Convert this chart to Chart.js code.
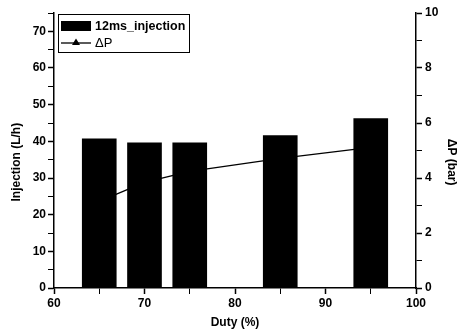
<!DOCTYPE html>
<html>
<head>
<meta charset="utf-8">
<script src="https://cdn.jsdelivr.net/npm/chart.js@4.4.0/dist/chart.umd.min.js"></script>
<style>
  html, body { margin: 0; padding: 0; background: #fff; }
  #wrap { width: 466px; height: 336px; }
</style>
</head>
<body>
<div id="wrap"><canvas id="chart" width="466" height="336"></canvas></div>
<script>
// values
const duty = [65, 70, 75, 85, 95];
const injection = [40.7, 39.6, 39.6, 41.6, 46.2];
const deltaP = [3.15, 3.84, 4.24, 4.71, 5.11];
const seriesNames = ["12ms_injection", "ΔP"];
const xTitle = "Duty (%)";
const yTitle = "Injection (L/h)";
const y1Title = "ΔP (bar)";

Chart.defaults.font.family = "'Liberation Sans', Arial, sans-serif";
Chart.defaults.font.size = 12;
Chart.defaults.font.weight = "bold";
Chart.defaults.color = "#000";

const pad = "\u00a0".repeat(7); // nudges the rotated titles down a bit

// legend box drawn inside the plot, top left
const boxLegend = {
  id: "boxLegend",
  afterDraw(chart) {
    const { ctx, chartArea } = chart;
    const x0 = Math.round(chartArea.left) + 4;
    const y0 = Math.round(chartArea.top) + 1;
    ctx.save();
    ctx.fillStyle = "#fff";
    ctx.fillRect(x0, y0, 131, 38);
    ctx.strokeStyle = "#000";
    ctx.lineWidth = 1;
    ctx.strokeRect(x0 + 0.5, y0 + 0.5, 131, 38);

    ctx.fillStyle = "#000";
    ctx.fillRect(x0 + 3, y0 + 7, 30, 10);

    ctx.lineWidth = 1.3;
    ctx.beginPath();
    ctx.moveTo(x0 + 3, y0 + 29);
    ctx.lineTo(x0 + 33, y0 + 29);
    ctx.stroke();
    ctx.beginPath();
    ctx.moveTo(x0 + 18, y0 + 24.5);
    ctx.lineTo(x0 + 22, y0 + 31);
    ctx.lineTo(x0 + 14, y0 + 31);
    ctx.closePath();
    ctx.fill();

    ctx.font = "bold 12.5px 'Liberation Sans', Arial, sans-serif";
    ctx.textBaseline = "middle";
    ctx.textAlign = "left";
    ctx.fillText(chart.data.datasets[0].label, x0 + 37, y0 + 12.5);
    ctx.font = "13px 'Liberation Sans', Arial, sans-serif";
    ctx.fillText(chart.data.datasets[1].label, x0 + 37, y0 + 29.5);
    ctx.restore();
  }
};

const tickGrid = {
  display: true,
  offset: false,
  drawOnChartArea: false,
  drawTicks: true,
  tickLength: 6,
  tickColor: "#000",
  tickWidth: (c) => (c.tick && c.tick.label !== "" ? 1.5 : 1)
};

new Chart(document.getElementById("chart"), {
  type: "bar",
  data: {
    datasets: [
      {
        label: seriesNames[0],
        data: duty.map((d, i) => ({ x: d, y: injection[i] })),
        backgroundColor: "#000",
        borderWidth: 0,
        barThickness: 34,
        yAxisID: "y"
      },
      {
        type: "line",
        label: seriesNames[1],
        data: duty.map((d, i) => ({ x: d, y: deltaP[i] })),
        borderColor: "#000",
        backgroundColor: "#000",
        borderWidth: 1.3,
        pointStyle: "triangle",
        pointRadius: 4,
        tension: 0,
        yAxisID: "y1"
      }
    ]
  },
  options: {
    responsive: false,
    animation: false,
    layout: { padding: { top: 13, left: 0, right: 0, bottom: 0 } },
    plugins: { legend: { display: false }, tooltip: { enabled: false } },
    scales: {
      x: {
        type: "linear",
        offset: false,
        min: 60,
        max: 100,
        grid: tickGrid,
        border: { display: true, color: "#000", width: 1.5 },
        ticks: {
          stepSize: 5,
          autoSkip: false,
          maxRotation: 0,
          padding: 2,
          callback: (v) => (v % 10 === 0 ? v : "")
        },
        title: { display: true, text: xTitle, padding: { top: 4, bottom: 6 } },
        afterFit: (s) => { s.height = 48; }
      },
      y: {
        position: "left",
        min: 0,
        max: 75,
        grid: tickGrid,
        border: { display: true, color: "#000", width: 1.5 },
        ticks: {
          stepSize: 5,
          autoSkip: false,
          padding: 2,
          callback: (v) => (v % 10 === 0 ? v : "")
        },
        title: { display: true, text: yTitle + pad, padding: { top: 9, bottom: 4 } },
        afterFit: (s) => { s.width = 54; }
      },
      y1: {
        position: "right",
        min: 0,
        max: 10,
        grid: tickGrid,
        border: { display: true, color: "#000", width: 1.5 },
        ticks: {
          stepSize: 1,
          autoSkip: false,
          padding: 3,
          callback: (v) => (v % 2 === 0 ? v : "")
        },
        title: { display: true, text: pad + y1Title, padding: { top: 7, bottom: 4 } },
        afterFit: (s) => { s.width = 50; }
      }
    }
  },
  plugins: [boxLegend]
});
</script>
</body>
</html>
